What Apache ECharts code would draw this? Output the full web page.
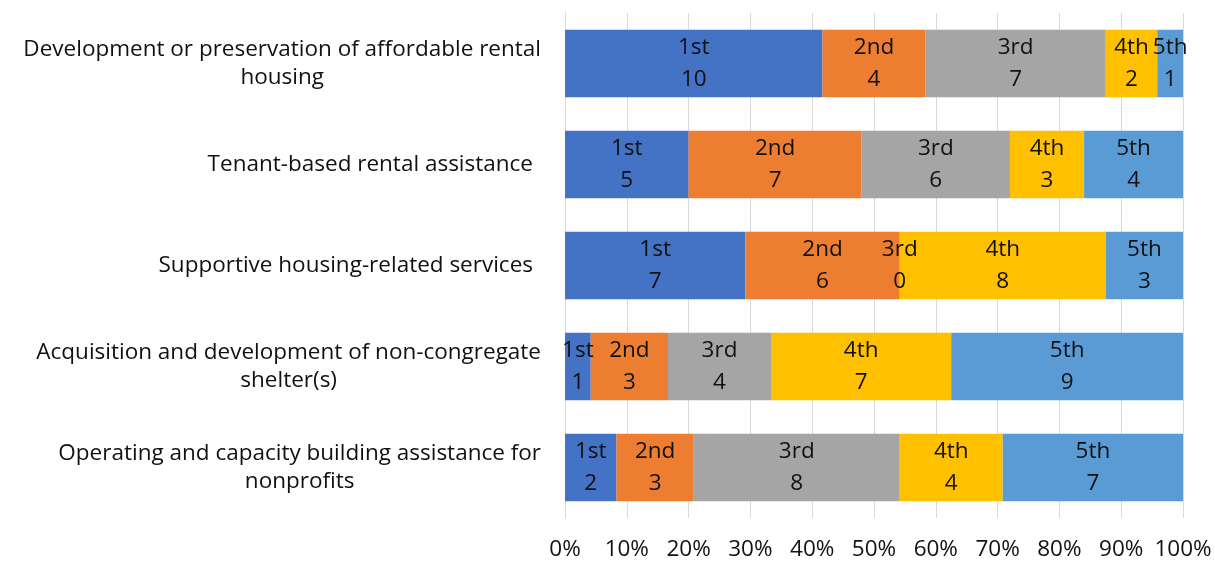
<!DOCTYPE html>
<html>
<head>
<meta charset="utf-8">
<script src="https://cdn.jsdelivr.net/npm/echarts@6/dist/echarts.min.js"></script>
<style>
html,body{margin:0;padding:0;background:#fff;}
#chart{width:1215px;height:561px;}
</style>
</head>
<body>
<div id="chart"></div>
<script>
const categories = [
  'Development or preservation of affordable rental\nhousing',
  'Tenant-based rental assistance',
  'Supportive housing-related services',
  'Acquisition and development of non-congregate\nshelter(s)',
  'Operating and capacity building assistance for\nnonprofits'
];
const seriesNames = ['1st', '2nd', '3rd', '4th', '5th'];
const rank1 = [10, 5, 7, 1, 2];
const rank2 = [4, 7, 6, 3, 3];
const rank3 = [7, 6, 0, 4, 8];
const rank4 = [2, 3, 8, 7, 4];
const rank5 = [1, 4, 3, 9, 7];
const colors = ['#4472C4', '#ED7D31', '#A5A5A5', '#FFC000', '#5B9BD5'];

const counts = [rank1, rank2, rank3, rank4, rank5];
const totals = categories.map((_, i) => counts.reduce((s, arr) => s + arr[i], 0));
const FONT = 'Open Sans';
const TXT = '#111111';
const FS = 22.5;

const series = seriesNames.map((name, si) => ({
  name: name,
  type: 'bar',
  stack: 'total',
  barCategoryGap: '33%',
  itemStyle: { color: colors[si] },
  label: {
    show: true,
    position: 'inside',
    color: TXT,
    fontFamily: FONT,
    fontSize: FS,
    lineHeight: 32,
    formatter: p => name + '\n' + counts[si][p.dataIndex]
  },
  data: counts[si].map((v, i) => v / totals[i] * 100)
}));

const chart = echarts.init(document.getElementById('chart'));
chart.setOption({
  animation: false,
  textStyle: { fontFamily: FONT },
  grid: { left: 565, right: 32, top: 13, bottom: 42, containLabel: false },
  xAxis: {
    type: 'value',
    min: 0,
    max: 100,
    interval: 10,
    axisLine: { show: false },
    axisTick: { show: false },
    splitLine: { show: true, lineStyle: { color: '#D9D9D9', width: 1 } },
    axisLabel: {
      color: TXT,
      fontFamily: FONT,
      fontSize: FS,
      margin: 20,
      formatter: v => v + '%'
    }
  },
  yAxis: {
    type: 'category',
    inverse: true,
    data: categories,
    axisLine: { show: true, lineStyle: { color: '#D9D9D9', width: 1 } },
    axisTick: { show: false },
    axisLabel: {
      margin: 24,
      color: TXT,
      fontFamily: FONT,
      fontSize: FS,
      lineHeight: 28,
      align: 'right',
      formatter: v => {
        const lines = v.split('\n');
        if (lines.length === 1) return '{s|' + v + '}';
        return lines.map(l => '{c|' + l + '}').join('\n');
      },
      rich: {
        c: { align: 'center', fontFamily: FONT, fontSize: FS, lineHeight: 28, color: TXT },
        s: { fontFamily: FONT, fontSize: FS, lineHeight: 28, color: TXT, padding: [0, 8, 0, 0] }
      }
    }
  },
  series: series
});
</script>
</body>
</html>
